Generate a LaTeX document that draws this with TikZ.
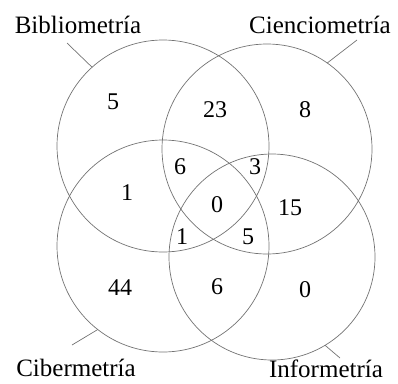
\documentclass[tikz,border=0pt]{standalone}
\usepackage{fontspec}
\setmainfont{Liberation Serif}
\begin{document}
\begin{tikzpicture}[x=1pt,y=-1pt,
  venn/.style={circle,draw=black!55,line width=0.7pt,inner sep=0pt,outer sep=0pt},
  lead/.style={draw=black!55,line width=0.7pt},
  lbl/.style={font=\fontsize{25}{28}\selectfont,inner sep=0pt},
  num/.style={font=\fontsize{24}{28}\selectfont,inner sep=0pt}]
\useasboundingbox (0,0) rectangle (398,383);
\node[venn,minimum size=212pt] (B) at (163,146) {};
\node[venn,minimum size=210pt] (C) at (267,149) {};
\node[venn,minimum size=212pt] (Y) at (163,246) {};
\node[venn,minimum size=206pt] (I) at (272,257) {};
% labels
\node[lbl,anchor=base] (tB) at (78,33) {Bibliometría};
\node[lbl,anchor=base] (tC) at (320,33) {Cienciometría};
\node[lbl,anchor=base] (tY) at (76,376) {Cibermetría};
\node[lbl,anchor=base] (tI) at (326,377) {Informetría};
\coordinate (cB) at (67,43);
\coordinate (cC) at (357,40);
\coordinate (cY) at (72,345);
\coordinate (cI) at (340,358);
\draw[lead] (cB) -- (B.132);
\draw[lead] (cC) -- (C.55);
\draw[lead] (cY) -- (Y.232);
\draw[lead] (cI) -- (I.301);
% numbers
\node[num] (n1) at (113,102) {5};
\node[num] (n2) at (215,110) {23};
\node[num] (n3) at (305,110) {8};
\node[num] (n4) at (180,167) {6};
\node[num] (n5) at (255,167) {3};
\node[num] (n6) at (127,193) {1};
\node[num] (n7) at (217,205) {0};
\node[num] (n8) at (290,208) {15};
\node[num] (n9) at (182,237) {1};
\node[num] (n10) at (248,237) {5};
\node[num] (n11) at (120,288) {44};
\node[num] (n12) at (217,287) {6};
\node[num] (n13) at (305,290) {0};
\end{tikzpicture}
\end{document}
